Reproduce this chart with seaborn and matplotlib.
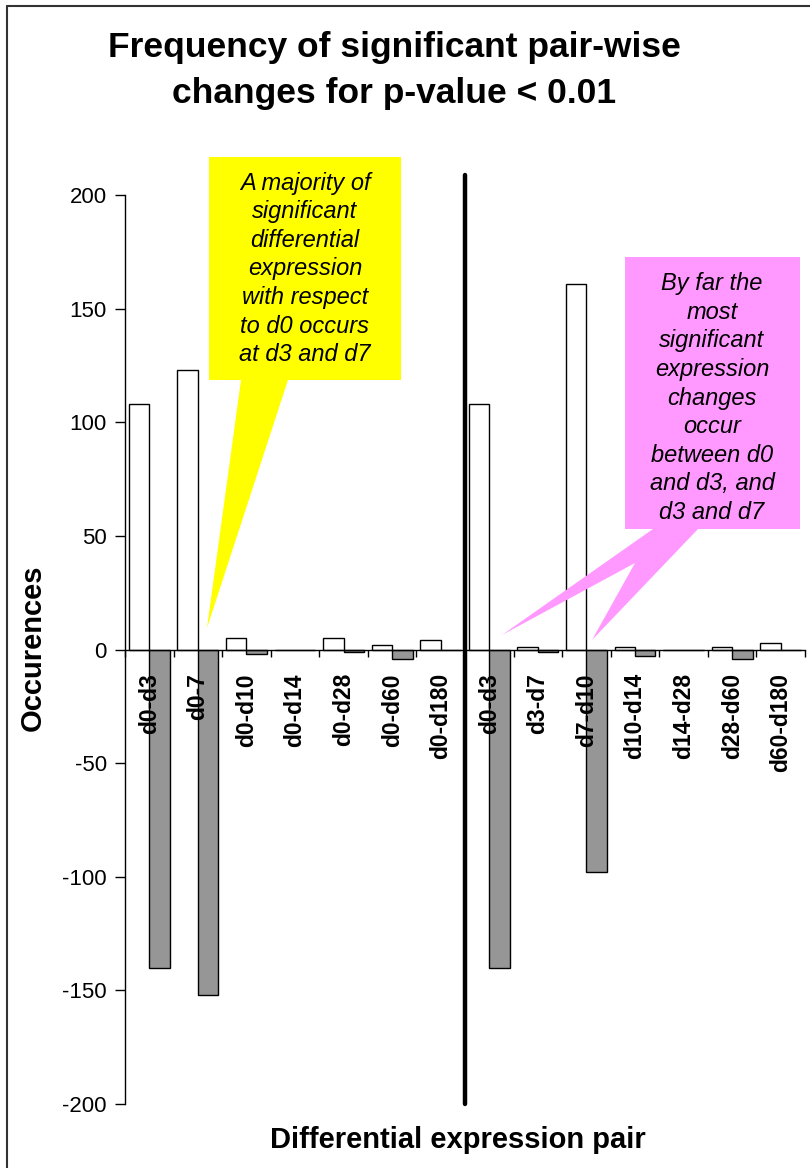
import matplotlib
matplotlib.use("Agg")
import matplotlib.pyplot as plt
import seaborn as sns
import pandas as pd
import numpy as np
from matplotlib.patches import Polygon
from matplotlib.lines import Line2D

# ---- data ----
pairs = ["d0-d3", "d0-7", "d0-d10", "d0-d14", "d0-d28", "d0-d60", "d0-d180",
         "d0-d3 ", "d3-d7", "d7-d10", "d10-d14", "d14-d28", "d28-d60", "d60-d180"]
up_counts = [108, 123, 5, 0, 5, 2, 4, 108, 1, 161, 1, 0, 1, 3]
down_counts = [-140, -152, -2, 0, -1, -4, 0, -140, -1, -98, -3, 0, -4, 0]
directions = ["Up", "Down"]
y_ticks = [-200, -150, -100, -50, 0, 50, 100, 150, 200]

df = pd.DataFrame({
    "pair": pairs * 2,
    "count": up_counts + down_counts,
    "direction": [directions[0]] * len(pairs) + [directions[1]] * len(pairs),
})

sns.set_theme(style="white")
plt.rcParams["font.family"] = ["Liberation Sans", "DejaVu Sans"]
for k in ["text.color", "axes.labelcolor", "xtick.color", "ytick.color"]:
    plt.rcParams[k] = "black"

W, H = 810, 1168
fig = plt.figure(figsize=(W / 100, H / 100), dpi=100)
ax = fig.add_axes([125 / W, 1 - 1104 / H, 680 / W, 909 / H])

sns.barplot(data=df, x="pair", y="count", hue="direction", order=pairs,
            hue_order=directions, palette={"Up": "white", "Down": "#969696"},
            edgecolor="black", linewidth=1.0, width=0.84, dodge=True,
            legend=False, ax=ax, zorder=2)

ax.set_ylim(-200, 200)
ax.set_xlim(-0.5, len(pairs) - 0.5)
ax.set_yticks(y_ticks)
ax.set_yticklabels([str(v) for v in y_ticks], fontsize=16)
ax.tick_params(axis="y", direction="out", length=7, width=1, color="black",
               left=True, pad=6)

# x axis at zero
for s in ["top", "right"]:
    ax.spines[s].set_visible(False)
ax.spines["bottom"].set_position(("data", 0))
ax.spines["bottom"].set_color("black")
ax.spines["left"].set_color("black")
ax.spines["bottom"].set_linewidth(1)
ax.spines["left"].set_linewidth(1)
ax.spines["bottom"].set_zorder(4)
ax.set_xticks(range(len(pairs)))
ax.set_xticklabels([p.strip() for p in pairs], rotation=90, fontsize=16.5,
                   fontweight="bold")
ax.set_xticks(np.arange(-0.5, len(pairs), 1.0), minor=True)
ax.tick_params(axis="x", which="major", length=0, pad=17)
ax.tick_params(axis="x", which="minor", direction="out", length=5, width=1,
               color="black", bottom=True)
ax.xaxis.set_zorder(6)
ax.set_xlabel("")
ax.set_ylabel("")
ax.grid(False)

# separator line
ax.plot([6.5, 6.5], [-200, 209], color="black", lw=3.2, clip_on=False, zorder=5)

def P(x, y):
    return (x / W, 1 - y / H)

# titles and labels
fig.text(*P(394, 48), "Frequency of significant pair-wise", ha="center",
         va="center", fontsize=25.5, fontweight="bold")
fig.text(*P(394, 94), "changes for p-value < 0.01", ha="center",
         va="center", fontsize=25.5, fontweight="bold")
fig.text(*P(458, 1140), "Differential expression pair", ha="center",
         va="center", fontsize=21, fontweight="bold")
fig.text(*P(33, 648), "Occurences", ha="center", va="center", rotation=90,
         fontsize=21, fontweight="bold")

# callouts
yellow = "#FFFF00"
pink = "#FF99FF"
ybox = [P(209, 157), P(401, 157), P(401, 380), P(288, 380), P(207, 628),
        P(241, 380), P(209, 380)]
fig.add_artist(Polygon(ybox, closed=True, facecolor=yellow, edgecolor="none",
                       transform=fig.transFigure, zorder=6))
fig.text(*P(305, 269), "A majority of\nsignificant\ndifferential\nexpression\n"
         "with respect\nto d0 occurs\nat d3 and d7", ha="center", va="center",
         fontsize=17, style="italic", linespacing=1.31, zorder=7)

pbox = [P(625, 257), P(800, 257), P(800, 529), P(698, 529), P(592, 640),
        P(635, 563), P(502, 635), P(653, 529), P(625, 529)]
fig.add_artist(Polygon(pbox, closed=True, facecolor=pink, edgecolor="none",
                       transform=fig.transFigure, zorder=6))
fig.text(*P(712, 398), "By far the\nmost\nsignificant\nexpression\nchanges\n"
         "occur\nbetween d0\nand d3, and\nd3 and d7", ha="center", va="center",
         fontsize=17, style="italic", linespacing=1.31, zorder=7)

# outer frame (left and top)
fig.add_artist(Line2D([7 / W, 7 / W], [0, 1 - 6 / H], color="#333333", lw=1.5,
                      transform=fig.transFigure))
fig.add_artist(Line2D([7 / W, 1], [1 - 6 / H, 1 - 6 / H], color="#333333", lw=1.5,
                      transform=fig.transFigure))

fig.savefig("out.png", dpi=100)
